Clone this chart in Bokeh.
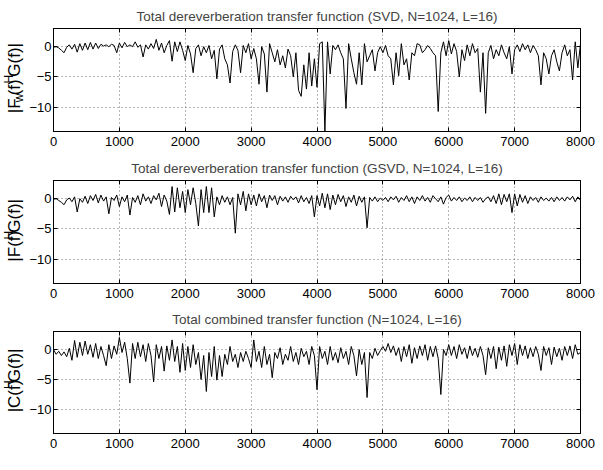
import math
import numpy as np
from bokeh.plotting import figure
from bokeh.layouts import column, row
from bokeh.models import Label, LinearAxis, FixedTicker, CustomJSTickFormatter, Range1d
from bokeh.embed import file_html
from bokeh.resources import INLINE

# ---- data (magnitudes, 40 Hz spacing) ----
svd_mag = [
    -0.1, 0.0, -0.2, -0.6, -1.0, -0.1, 0.3, -0.4, 0.4, -0.9, 0.5, -0.6, 0.6, -0.5, 0.7, -0.4, 0.6, -0.3, 0.4, 0.1, 0.3, 0.0, 0.4, 0.2, -1.0,
    0.6, -0.2, 0.7, 0.0, 0.3, 0.0, 0.8, -0.1, 0.3, -1.7, 0.3, -0.4, 0.5, -0.3, 1.2, -0.6, 0.6, -1.0, 0.2, 1.0, -2.4, 0.8, -0.8, 0.8, -0.6,
    -2.3, 0.2, -1.2, -4.3, -0.3, 0.3, -1.5, 0.0, -1.0, 0.2, -2.0, -0.6, -5.3, -0.4, 0.3, -2.0, -3.0, -6.0, -0.8, 0.3, -0.6, -4.3, 0.2, -1.0, 0.5,
    -2.0, -0.3, -2.0, -6.2, 0.0, -1.2, -7.5, 0.5, -1.0, -2.5, -0.5, -3.0, -1.5, -3.5, -0.4, -1.5, -5.0, -1.0, -7.2, -8.2, -3.0, -7.0, -1.0, -6.5, -2.0,
    -6.7, 0.5, 0.8, -14.0, 0.8, -4.5, 0.2, -0.5, 0.3, -1.0, -2.0, -10.2, 0.5, -2.0, -4.3, -6.2, -1.0, -6.3, 0.5, -2.5, -1.5, -0.5, -4.0, -1.0, 0.0,
    -1.0, 0.2, -1.5, -2.0, -6.3, -1.0, -4.8, 0.5, -3.0, -2.0, -5.5, -1.0, -1.5, 0.5, 0.3, -1.0, -0.5, 0.2, -0.3, -1.0, -1.5, -10.7, -1.0, 0.8, -1.5,
    1.0, -1.2, 0.5, -0.8, -5.0, -0.5, -2.3, 0.3, -1.5, 0.5, -1.0, -0.3, -7.5, -1.0, -11.0, -1.0, 0.2, -2.0, -0.5, -1.5, 0.3, -1.0, -2.0, 0.0, -4.5,
    -0.5, 0.3, -0.8, 0.5, -0.5, 0.3, -1.0, 0.2, -0.5, -1.5, -6.3, -1.0, -2.0, -4.5, -1.5, -0.5, -2.5, -4.0, -1.0, 0.3, -1.5, -0.5, -5.5, 0.8, -3.5,
    0.5,
]
gsvd_mag = [
    -0.1, 0.0, -0.3, -0.6, -1.0, -0.2, 0.1, -0.5, 0.3, -2.2, 0.0, -0.6, 0.4, -0.8, 0.5, -0.3, 0.7, -0.7, 0.6, -0.4, 0.3, -2.5, 0.2, -0.3, 0.6,
    -1.3, 0.3, -0.5, 0.6, -2.7, 0.2, -0.6, 0.5, -1.0, 0.8, -0.4, 0.3, -0.8, 0.5, -0.2, 0.9, -1.3, 0.6, -0.4, -2.6, 2.0, -2.2, 1.8, -1.5, 1.2,
    -2.3, 1.5, -1.0, 1.8, -0.8, -4.5, 1.5, -2.3, 2.0, -2.3, 1.8, -3.0, 0.3, -1.0, 0.5, -0.6, 0.3, -1.0, 0.2, -5.7, 0.8, -1.0, 1.2, -2.0, 0.8,
    -1.0, 0.6, -1.2, 0.8, -0.5, 0.5, -1.5, 0.6, -0.3, 0.5, -1.0, 0.4, -0.4, 0.3, -0.6, 0.4, -0.2, 0.3, -0.7, 0.5, -0.5, 0.2, -0.8, 0.5, -3.0,
    0.5, -1.2, 0.9, -1.5, 0.8, -1.8, 0.6, -1.0, 0.7, -0.5, 0.5, -1.3, 0.3, -0.6, 0.6, -1.2, 0.4, -0.6, 0.3, -4.8, 0.2, -0.4, 0.3, -0.5, 0.1,
    -0.3, 0.2, -0.5, 0.3, -0.2, 0.4, -0.6, 0.2, -0.3, 0.5, -0.5, 0.3, -0.8, 0.3, -0.3, 0.5, -0.4, 0.2, -0.6, 0.5, 0.0, -0.5, 0.3, -0.9, 0.2,
    0.6, -0.4, 0.2, -0.3, 0.3, -0.5, 0.1, -0.3, 0.3, -0.5, 0.2, -0.3, 0.2, -0.6, 0.0, 0.3, -0.5, 0.5, -0.8, 0.8, -1.0, 0.7, -0.5, 0.8, -2.3,
    0.8, -1.2, 0.7, -0.6, 0.5, -0.8, 0.3, -0.3, 0.2, -0.6, 0.3, -0.3, 0.1, -0.4, 0.2, -0.5, 0.3, -0.3, 0.2, -0.4, 0.3, -0.2, 0.4, -0.5, 0.3,
    -0.3,
]
comb_mag = [
    0.0, -0.8, -0.3, -1.0, -0.4, -1.2, 0.2, -1.8, 1.5, -1.3, 1.2, -1.0, 1.4, -0.8, 0.8, -1.3, 1.0, -1.5, 0.5, -1.0, -2.7, 0.8, -1.5, 0.6, -0.8,
    2.0, -0.5, 1.2, -1.5, -5.6, 1.0, -1.5, 1.2, -1.2, 0.8, -2.0, 1.0, -1.0, -5.4, 0.8, -1.5, 0.5, -3.6, 0.6, -1.8, 1.6, -2.0, 0.5, -3.8, 1.0,
    -3.5, 0.5, -3.0, 0.8, -2.5, -0.5, -5.0, -1.0, -7.0, -0.5, -4.5, 0.5, -5.1, -1.0, -4.5, -0.8, -2.5, 0.5, -2.0, -0.8, -3.0, -0.5, -2.0, -0.3, -1.5,
    -3.0, 1.6, -2.0, -0.3, -3.0, 0.5, -2.5, -0.8, -4.7, -0.5, -1.5, 0.3, -2.5, -0.8, -1.8, 0.5, -2.0, -0.5, -2.5, 0.2, -1.2, -0.3, -2.5, 0.5, -1.0,
    -6.7, 0.5, -1.5, -0.3, -2.5, 0.5, -1.8, -0.5, -2.2, 0.3, -1.5, -0.3, -2.5, 0.5, -1.0, -4.4, 0.0, -2.5, -0.5, -8.0, -0.5, -1.5, 0.2, -1.0, -0.2,
    0.5, -0.3, 1.0, -0.5, 0.6, -1.0, 0.3, -2.0, 0.5, -1.2, 0.8, -2.3, 0.3, -1.5, 0.6, -1.0, 0.8, -1.8, 0.5, -1.2, 0.6, -1.5, -7.5, 0.0, -1.0,
    0.8, -1.0, 0.5, -1.5, 0.8, -0.8, 0.3, -1.5, 0.6, -1.0, 0.2, -1.3, 0.5, -1.0, -4.2, 0.3, -1.5, 0.5, -3.2, 0.4, -1.8, 0.6, -2.8, 0.8, -1.0,
    1.0, -2.5, 0.8, -1.0, 0.6, -1.5, 0.3, -1.2, 0.5, -0.8, -3.5, 0.5, -1.0, 0.3, -2.5, 0.4, -1.2, 0.2, -1.8, 0.5, -1.0, 0.6, -1.5, 0.8, -0.8,
    -0.5,
]

titles = [
    "Total dereverberation transfer function (SVD, N=1024, L=16)",
    "Total dereverberation transfer function (GSVD, N=1024, L=16)",
    "Total combined transfer function (N=1024, L=16)",
]
# y label pieces: (text, kind) kind: n=normal, sub=subscript, sup=superscript
ylabels = [
    [("|F", "n"), ("w", "sub"), ("(f)", "n"), ("H", "sup"), (" G(f)|", "n")],
    [("|F(f)", "n"), ("H", "sup"), (" G(f)|", "n")],
    [("|C(f)", "n"), ("H", "sup"), (" G(f)|", "n")],
]
x_ticks = [0, 1000, 2000, 3000, 4000, 5000, 6000, 7000, 8000]
y_ticks = [-10, -5, 0]
f_max = 8000
y_lim = (-14, 3)

series = [svd_mag, gsvd_mag, comb_mag]

FONT = "Liberation Sans"
FS = 13          # tick font px
FS_LAB = 17      # y label font px
FS_SMALL = 12    # sub/superscript px
W = {"|": 0.26, "F": 0.611, "(": 0.333, "f": 0.278, ")": 0.333, " ": 0.278,
     "G": 0.778, "C": 0.722, "w": 0.722, "H": 0.722}

def text_width(s, size):
    return sum(W.get(c, 0.55) for c in s) * size

LAB_W = 26            # width of the strip that holds the rotated y label
MAIN_W = 595 - LAB_W
BL, BR = 24, 15
heights = [153, 151, 150]
tops = [28, 27, 26]
bottoms = [22, 21, 21]

rows = []
for i in range(3):
    vals = series[i]
    freq = np.linspace(0, f_max, len(vals))
    frame_h = heights[i] - tops[i] - bottoms[i]
    p = figure(width=MAIN_W, height=heights[i], output_backend="svg", toolbar_location=None,
               x_range=Range1d(0, f_max), y_range=Range1d(*y_lim),
               min_border_left=BL, min_border_right=BR, min_border_top=tops[i],
               min_border_bottom=bottoms[i], title=titles[i])
    p.title.align = "center"
    p.title.text_font = FONT
    p.title.text_font_size = "13.5px"
    p.title.text_font_style = "normal"
    p.title.offset = 0
    p.title.standoff = 10
    p.line(freq, vals, line_color="black", line_width=1)

    p.outline_line_color = "black"
    p.outline_line_width = 1
    for ax in (p.xaxis[0], p.yaxis[0]):
        ax.axis_line_color = "black"
        ax.major_tick_in = 4
        ax.major_tick_out = 0
        ax.minor_tick_line_color = None
        ax.major_label_text_font = FONT
        ax.major_label_text_font_size = f"{FS}px"
        ax.major_label_text_color = "black"
    p.xaxis.major_label_standoff = 5
    p.yaxis.major_label_standoff = 2
    p.xaxis.ticker = FixedTicker(ticks=x_ticks)
    p.yaxis.ticker = FixedTicker(ticks=y_ticks)
    p.yaxis.major_label_overrides = {-10: "\u221210", -5: "\u22125", 0: "0"}

    for loc, tk in (("right", y_ticks), ("above", x_ticks)):
        ax = LinearAxis(ticker=FixedTicker(ticks=tk),
                        formatter=CustomJSTickFormatter(code="return ''"),
                        major_tick_in=4, major_tick_out=0, axis_line_color="black",
                        minor_tick_line_color=None, major_label_standoff=0,
                        major_label_text_font_size="1px")
        p.add_layout(ax, loc)

    p.grid.grid_line_color = "#6e6e6e"
    p.grid.grid_line_dash = "1 3"
    p.grid.grid_line_width = 1
    p.xgrid.ticker = FixedTicker(ticks=x_ticks)
    p.ygrid.ticker = FixedTicker(ticks=y_ticks)

    # narrow strip on the left carrying the rotated y label (pieces for sub/superscripts)
    q = figure(width=LAB_W, height=heights[i], output_backend="svg", toolbar_location=None,
               x_range=Range1d(0, LAB_W), y_range=Range1d(0, heights[i]),
               min_border_left=0, min_border_right=0, min_border_top=0, min_border_bottom=0)
    q.axis.visible = False
    q.grid.visible = False
    q.outline_line_color = None
    pieces = ylabels[i]
    sizes = [FS_LAB if k == "n" else FS_SMALL for _, k in pieces]
    gaps = [1.5 if k != "n" else 0.0 for _, k in pieces]
    total = sum(text_width(t, s) + 2 * g for (t, _), s, g in zip(pieces, sizes, gaps))
    ypos = bottoms[i] + frame_h / 2.0 - total / 2.0
    base_x = 14
    for (t, k), size, g in zip(pieces, sizes, gaps):
        dx = {"n": 0, "sub": 4, "sup": -6}[k]
        ypos += g
        lab = Label(x=base_x + dx, y=ypos, text=t,
                    angle=math.pi / 2, text_font=FONT, text_font_size=f"{size}px",
                    text_align="left", text_baseline="middle", text_color="black")
        q.add_layout(lab)
        ypos += text_width(t, size) + g
    rows.append(row(q, p, spacing=0))

layout = column(*rows, spacing=0)
open("out.html", "w").write(file_html(layout, INLINE))
